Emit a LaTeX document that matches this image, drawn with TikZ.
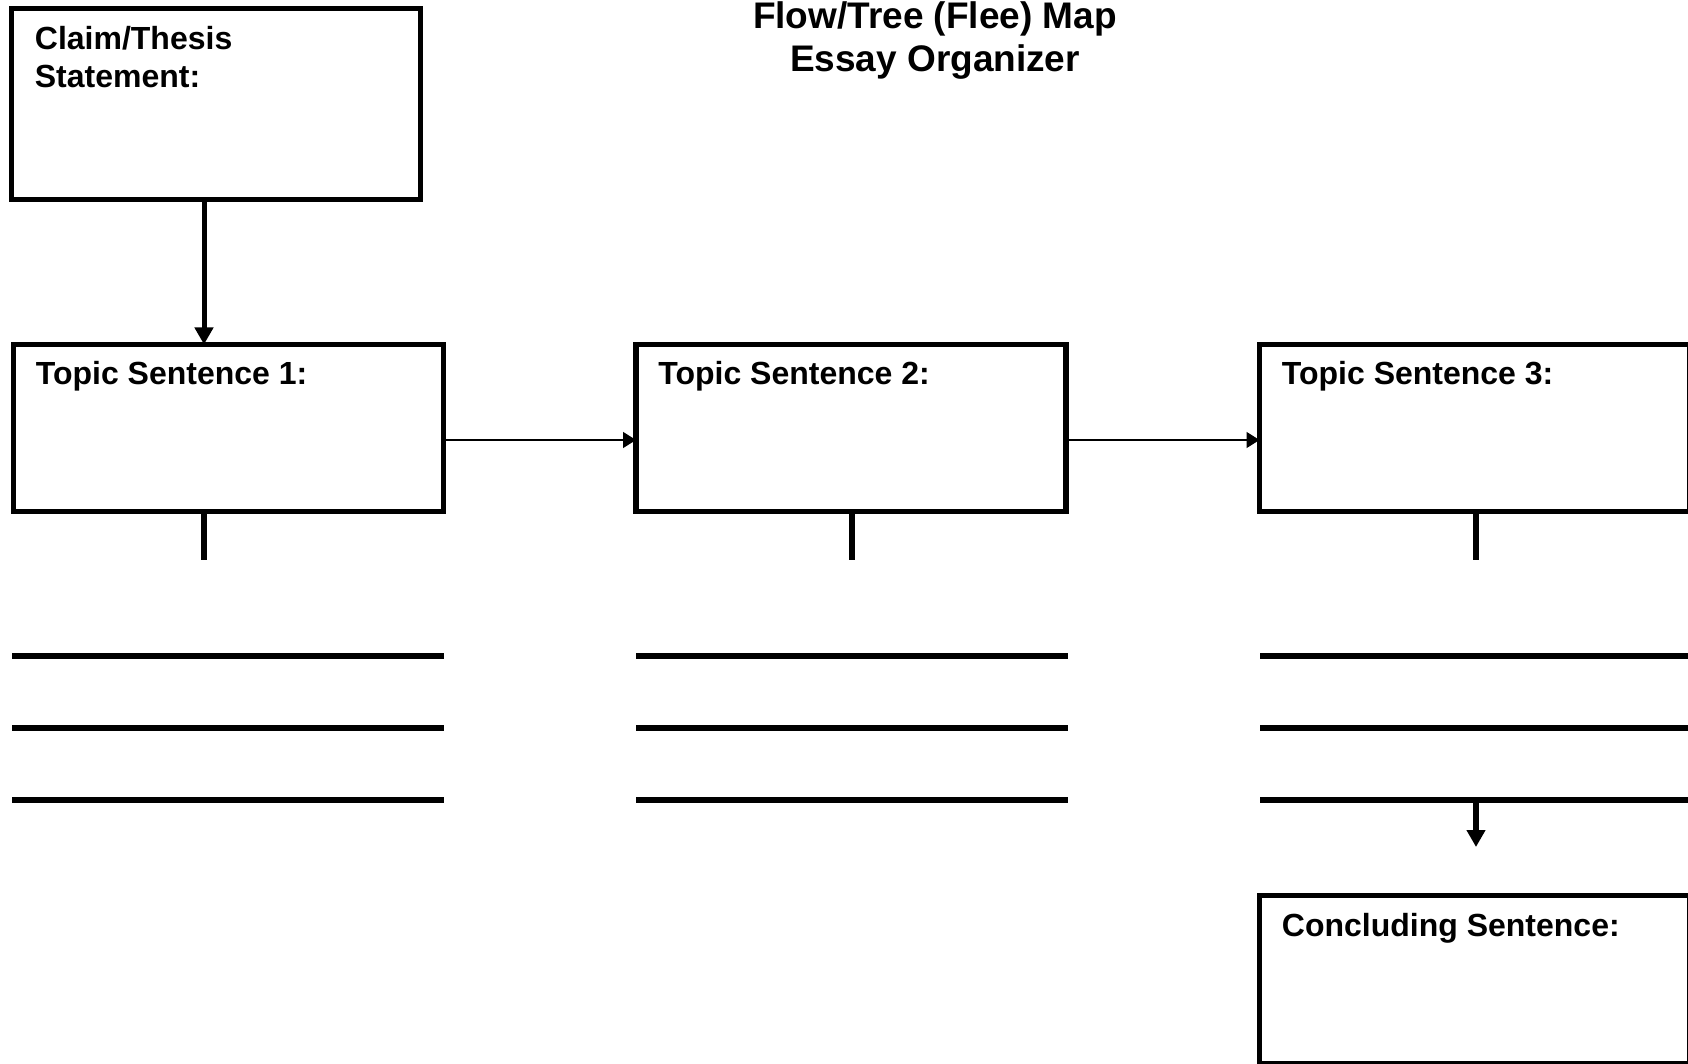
\documentclass[tikz,border=0pt]{standalone}
\usepackage{fontspec}
\setmainfont{Liberation Sans}
\usetikzlibrary{arrows.meta}
\begin{document}
\begin{tikzpicture}[x=0.5pt,y=-0.5pt]
    \tikzstyle{box}=[draw=black, line width=2.75pt, outer sep=0pt, inner sep=0pt, minimum width=215pt, minimum height=83.5pt]
    \tikzstyle{lbl}=[anchor=base west, inner sep=0pt, align=left, font=\bfseries\fontsize{16}{19}\selectfont]
    \tikzstyle{stem}=[line width=3pt]
    \tikzstyle{bigarrow}=[-{Triangle[length=8.5pt,width=9pt]}]
    \tikzstyle{thinarrow}=[line width=0.75pt, -{Triangle[length=6.5pt,width=8pt]}]
    \useasboundingbox (0,0) rectangle (1688,1064);
    \clip (0,0) rectangle (1688,1064);
    % title
    \node[anchor=base, inner sep=0pt, align=center, font=\bfseries\fontsize{18.5}{21.5}\selectfont] (title) at (935,72) {Flow/Tree (Flee) Map\\Essay Organizer};
    % boxes
    \node[box, minimum width=204.5pt, minimum height=95.5pt] (claim) at (216,104) {};
    \node[box] (ts1) at (228.5,428) {};
    \node[box] (ts2) at (851,428) {};
    \node[box] (ts3) at (1474.5,428) {};
    \node[box, minimum height=84pt] (conc) at (1474.5,979.5) {};
    \node[lbl] (claimtxt) at ([shift={(23,79.5)}]claim.north west) {Claim/Thesis\\Statement:};
    \node[lbl] (ts1txt) at ([shift={(22,40.5)}]ts1.north west) {Topic Sentence 1:};
    \node[lbl] (ts2txt) at ([shift={(22,40.5)}]ts2.north west) {Topic Sentence 2:};
    \node[lbl] (ts3txt) at ([shift={(22,40.5)}]ts3.north west) {Topic Sentence 3:};
    \node[lbl] (conctxt) at ([shift={(22,40.5)}]conc.north west) {Concluding Sentence:};
    % connectors
    \draw[bigarrow, line width=2.5pt] ([xshift=-6pt]claim.south) -- ([xshift=-6pt]claim.south |- ts1.north);
    \draw[thinarrow] ([yshift=-6pt]ts1.east) -- ([yshift=-6pt]ts2.west);
    \draw[thinarrow] ([yshift=-6pt]ts2.east) -- ([yshift=-6pt]ts3.west);
    \draw[stem] ([xshift=-12.5pt]ts1.south) -- ++(0,48.5);
    \draw[stem] ([xshift=0.5pt]ts2.south) -- ++(0,48.5);
    \draw[stem] ([xshift=0.75pt]ts3.south) -- ++(0,48.5);
    % lines to write on
    \foreach \y in {656,728,800}{
      \draw[stem] (12,\y) -- (444,\y);
      \draw[stem] (636,\y) -- (1068,\y);
      \draw[stem] (1260,\y) -- (1700,\y);
    }
    \coordinate (l3c) at (1476,800);
    \coordinate (concin) at (1476,847);
    \draw[stem, bigarrow] (l3c) -- (concin);
  \end{tikzpicture}
\end{document}
